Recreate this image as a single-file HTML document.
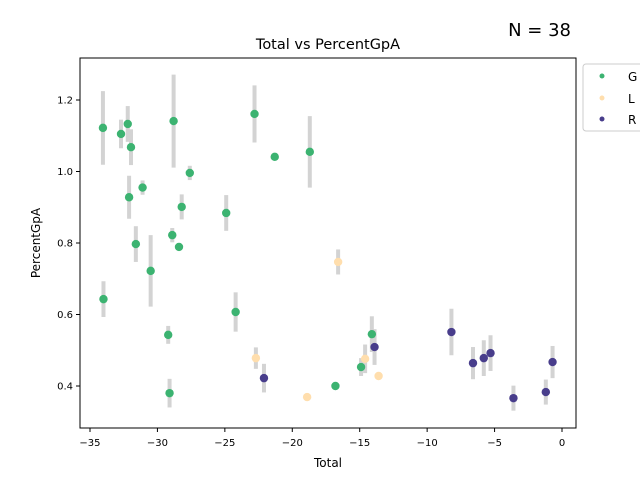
<!DOCTYPE html>
<html><head><meta charset="utf-8"><style>
body{margin:0;background:#fff;width:640px;height:480px;overflow:hidden;font-family:"Liberation Sans","DejaVu Sans",sans-serif}
</style></head><body>
<svg id="chart" width="640" height="480" xmlns="http://www.w3.org/2000/svg" font-family="DejaVu Sans, Liberation Sans, sans-serif">
<text x="571" y="36" font-size="18" text-anchor="end">N = 38</text>
<text x="328" y="49" font-size="14.5" text-anchor="middle">Total vs PercentGpA</text>
<g id="marks"></g>
<rect x="80" y="58" width="496" height="370" fill="none" stroke="#000" stroke-width="1"/>
<g id="axes"></g>
<text x="328" y="467" font-size="12" text-anchor="middle">Total</text>
<text transform="translate(40,243) rotate(-90)" font-size="12" text-anchor="middle">PercentGpA</text>
<g>
<rect x="583" y="64" width="70" height="67" rx="3" fill="#fff" stroke="#ccc"/>
<circle cx="602" cy="76" r="2.5" fill="#3cb371"/>
<text x="628" y="81" font-size="12">G</text>
<circle cx="602" cy="98" r="2.5" fill="#ffdead"/>
<text x="628" y="103" font-size="12">L</text>
<circle cx="602" cy="119" r="2.5" fill="#483d8b"/>
<text x="628" y="124" font-size="12">R</text>
</g>
</svg>
<script>
const groups = ['G','L','R'];
const colors = {G:'#3cb371', L:'#ffdead', R:'#483d8b'};
const gX = [-34.04,-32.7,-32.2,-31.96,-32.1,-31.1,-31.6,-30.5,-34.0,-28.8,-27.6,-28.2,-28.9,-28.4,-29.2,-29.1,-24.9,-24.2,-22.8,-21.3,-18.7,-16.8,-14.9,-14.1];
const gY = [1.122,1.105,1.133,1.068,0.928,0.955,0.797,0.722,0.643,1.141,0.996,0.901,0.822,0.789,0.543,0.380,0.884,0.607,1.161,1.041,1.055,0.400,0.453,0.545];
const gE = [0.103,0.04,0.05,0.05,0.06,0.02,0.05,0.1,0.05,0.13,0.02,0.035,0.02,0.0,0.025,0.04,0.05,0.055,0.08,0.01,0.1,0.01,0.025,0.05];
const lX = [-22.7,-18.9,-16.6,-14.6,-13.6];
const lY = [0.478,0.369,0.747,0.476,0.428];
const lE = [0.03,0.01,0.035,0.04,0.0];
const rX = [-22.1,-13.9,-8.2,-6.6,-5.8,-5.3,-3.6,-1.2,-0.7];
const rY = [0.422,0.509,0.551,0.464,0.478,0.492,0.366,0.383,0.467];
const rE = [0.04,0.05,0.065,0.045,0.05,0.05,0.035,0.035,0.045];
const xTicks = [-35,-30,-25,-20,-15,-10,-5,0];
const yTicks = [0.4,0.6,0.8,1.0,1.2];

const NS='http://www.w3.org/2000/svg';
function sx(v){return 562 + (v)*13.486;}
function sy(v){return 386 - (v-0.4)*357.5;}
const marks=document.getElementById('marks');
const axes=document.getElementById('axes');
function mk(tag,attrs,parent){const e=document.createElementNS(NS,tag);for(const k in attrs)e.setAttribute(k,attrs[k]);parent.appendChild(e);return e;}
const series={G:[gX,gY,gE],L:[lX,lY,lE],R:[rX,rY,rE]};
// error bars first
groups.forEach(g=>{const [X,Y,E]=series[g];X.forEach((x,i)=>{
 const l=mk('line',{x1:sx(x),x2:sx(x),y1:sy(Y[i]+E[i]),y2:sy(Y[i]-E[i]),stroke:'#d3d3d3','stroke-width':4},marks);
 
 
});});
groups.forEach(g=>{const [X,Y]=series[g];X.forEach((x,i)=>{
 const c=mk('circle',{cx:sx(x),cy:sy(Y[i]),r:4.2,fill:colors[g]},marks);
 
 
});});
xTicks.forEach(t=>{const x=sx(t);
 const l=mk('line',{x1:x,x2:x,y1:428,y2:432,stroke:'#000'},axes);
 
 
 const tx=mk('text',{x:x,y:446,'font-size':10,'text-anchor':'middle'},axes);
 tx.textContent=(t<0?'\u2212'+(-t):String(t));
 
 
});
yTicks.forEach(t=>{const y=sy(t);
 const l=mk('line',{x1:76,x2:80,y1:y,y2:y,stroke:'#000'},axes);
 
 
 const tx=mk('text',{x:73,y:y+3.5,'font-size':10,'text-anchor':'end'},axes);
 tx.textContent=t.toFixed(1);
 
 
});
</script>
</body></html>
